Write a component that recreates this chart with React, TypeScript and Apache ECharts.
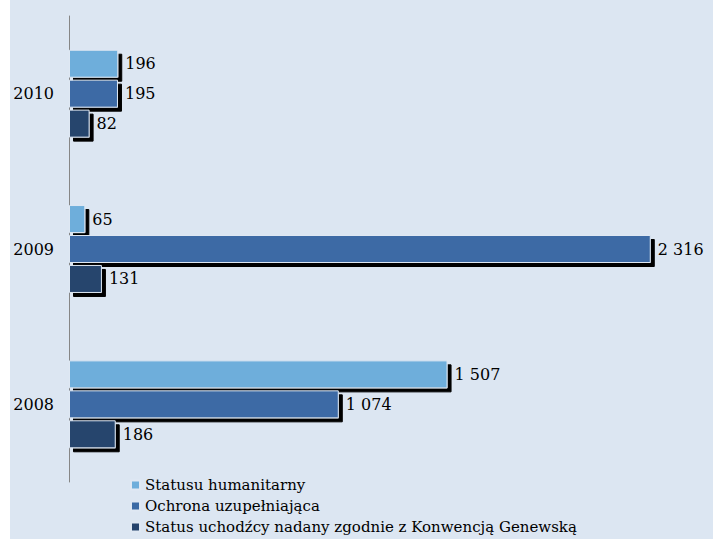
import React, { useEffect, useRef } from "react";
import * as echarts from "echarts";

const categories = ["2008", "2009", "2010"];
const seriesNames = [
  "Statusu humanitarny",
  "Ochrona uzupełniająca",
  "Status uchodźcy nadany zgodnie z Konwencją Genewską",
];
const humanitarny = [1507, 65, 196];
const uzupelniajaca = [1074, 2316, 195];
const genewska = [186, 131, 82];
const colors = ["#6eaedb", "#3c6aa5", "#25446d"];

const fmt = (v: number) => String(v).replace(/\B(?=(\d{3})+(?!\d))/g, " ");
const FONT = "'DejaVu Serif', serif";

export default function App() {
  const ref = useRef<HTMLDivElement>(null);
  useEffect(() => {
    const chart = echarts.init(ref.current!, null, { renderer: "svg" });
    const data = [humanitarny, uzupelniajaca, genewska];
    chart.setOption({
      animation: false,
      backgroundColor: "#ffffff",
      textStyle: { fontFamily: FONT },
      graphic: [
        {
          type: "rect",
          left: 10,
          top: 0,
          shape: { width: 703, height: 539 },
          style: { fill: "#dce6f2" },
          z: -10,
          silent: true,
        },
      ],
      legend: {
        orient: "vertical",
        left: 130,
        top: 476,
        height: 63,
        padding: 0,
        itemWidth: 9,
        itemHeight: 9,
        itemGap: 3,
        icon: "rect",
        data: seriesNames,
        textStyle: { fontFamily: FONT, fontSize: 15, color: "#000", lineHeight: 18 },
      },
      grid: { left: 69, right: 23, top: 16, bottom: 57 },
      xAxis: {
        type: "value",
        min: 0,
        max: 2500,
        show: false,
        splitLine: { show: false },
      },
      yAxis: {
        type: "category",
        data: categories,
        axisLine: { show: true, lineStyle: { color: "#868686", width: 1 } },
        axisTick: { show: false },
        axisLabel: { fontFamily: FONT, fontSize: 16, color: "#000", margin: 15 },
      },
      series: seriesNames.map((name, i) => ({
        name,
        type: "bar",
        data: data[i],
        barWidth: 28,
        barGap: "7%",
        itemStyle: {
          color: colors[i],
          borderColor: "#dfe8f3",
          borderWidth: 1,
          shadowColor: "#000",
          shadowOffsetX: 4,
          shadowOffsetY: 4,
          shadowBlur: 0,
        },
        label: {
          show: true,
          position: "right",
          distance: 7,
          fontFamily: FONT,
          fontSize: 16,
          color: "#000",
          formatter: (p: any) => fmt(p.value),
        },
      })),
    });
    return () => chart.dispose();
  }, []);
  return (
    <div
      ref={ref}
      style={{ position: "fixed", left: 0, top: 0, width: 720, height: 539 }}
    />
  );
}
